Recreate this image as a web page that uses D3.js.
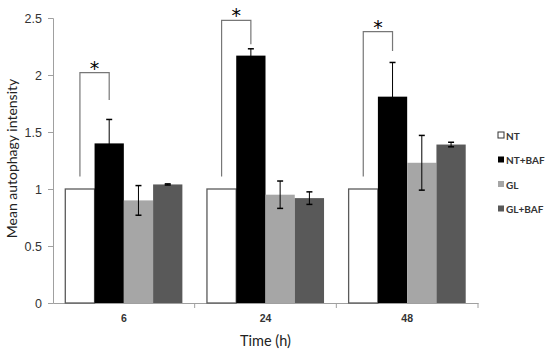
<!DOCTYPE html>
<html>
<head>
<meta charset="utf-8">
<script src="https://cdn.jsdelivr.net/npm/d3@7"></script>
<style>
  body { margin: 0; background: #fff; }
  svg { display: block; font-family: Lato, "Open Sans", sans-serif; }
</style>
</head>
<body>
<svg id="chart" width="550" height="358"></svg>
<script>
// Data
const times = ["6", "24", "48"];
const series = ["NT", "NT+BAF", "GL", "GL+BAF"];
const colors = ["#ffffff", "#000000", "#a6a6a6", "#595959"];
const means = [
  [1, 1.40, 0.90, 1.04],
  [1, 2.17, 0.95, 0.92],
  [1, 1.81, 1.23, 1.39]
];
const errors = [
  [0, 0.21, 0.13, 0.005],
  [0, 0.06, 0.12, 0.055],
  [0, 0.30, 0.24, 0.02]
];
// significance brackets: NT vs NT+BAF, bracket top value, leg ends
const brackets = [
  { time: "6",  top: 2.02, leftEnd: 1.11, rightEnd: 1.78 },
  { time: "24", top: 2.48, leftEnd: 1.11, rightEnd: 2.27 },
  { time: "48", top: 2.38, leftEnd: 1.11, rightEnd: 2.21 }
];
const yTicks = [0, 0.5, 1, 1.5, 2, 2.5];

const svg = d3.select("#chart");
const margin = { left: 53, right: 72, top: 18, bottom: 55 };
const width = 550, height = 358;

const x = d3.scaleBand()
  .domain(times)
  .range([margin.left, width - margin.right])
  .paddingInner(0)
  .paddingOuter(0);

const xInner = d3.scaleBand()
  .domain(series)
  .range([0, x.bandwidth()])
  .paddingOuter(0.42)
  .paddingInner(0);

const y = d3.scaleLinear()
  .domain([0, 2.5])
  .range([height - margin.bottom, margin.top]);

// Axes
const yAxis = svg.append("g")
  .attr("transform", `translate(${margin.left},0)`)
  .call(d3.axisLeft(y).tickValues(yTicks).tickSize(5).tickPadding(6)
    .tickFormat(d => d));
yAxis.select(".domain").attr("stroke", "#a0a0a0");
yAxis.selectAll(".tick line").attr("stroke", "#a0a0a0");
yAxis.selectAll(".tick text")
  .attr("font-size", "12.5px")
  .attr("fill", "#333");

const xAxis = svg.append("g")
  .attr("transform", `translate(0,${y(0)})`)
  .call(d3.axisBottom(x).tickSize(0).tickPadding(12));
xAxis.select(".domain").attr("stroke", "#a0a0a0");
xAxis.selectAll(".tick text")
  .attr("font-size", "10.5px")
  .attr("font-weight", "bold")
  .attr("fill", "#333");

// boundary ticks on x axis
svg.append("g")
  .selectAll("line")
  .data(times.slice(1).concat(["end"]))
  .enter()
  .append("line")
  .attr("x1", d => d === "end" ? x.range()[1] : x(d))
  .attr("x2", d => d === "end" ? x.range()[1] : x(d))
  .attr("y1", y(0))
  .attr("y2", y(0) + 5)
  .attr("stroke", "#a0a0a0");

// Bars
const groups = svg.append("g")
  .selectAll(".group")
  .data(times)
  .enter()
  .append("g")
  .attr("class", "group")
  .attr("transform", d => `translate(${x(d)},0)`);

groups.selectAll("rect")
  .data((t, i) => series.map((s, j) => ({ s, j, v: means[i][j], e: errors[i][j] })))
  .enter()
  .append("rect")
  .attr("x", d => xInner(d.s))
  .attr("y", d => y(d.v))
  .attr("width", xInner.bandwidth())
  .attr("height", d => y(0) - y(d.v))
  .attr("fill", d => colors[d.j])
  .attr("stroke", d => d.j === 0 ? "#5a5a5a" : "none")
  .attr("stroke-width", 1.3);

// Error bars
const err = groups.selectAll(".err")
  .data((t, i) => series.map((s, j) => ({ s, j, v: means[i][j], e: errors[i][j] }))
    .filter(d => d.e > 0))
  .enter()
  .append("g")
  .attr("class", "err")
  .attr("stroke", "#000")
  .attr("stroke-width", 1);

const cx = d => xInner(d.s) + xInner.bandwidth() / 2;
err.append("line")
  .attr("x1", cx).attr("x2", cx)
  .attr("y1", d => y(d.v - d.e))
  .attr("y2", d => y(d.v + d.e));
err.append("line")
  .attr("x1", d => cx(d) - 3).attr("x2", d => cx(d) + 3)
  .attr("y1", d => y(d.v + d.e)).attr("y2", d => y(d.v + d.e))
  .attr("stroke-width", 1.5);
err.append("line")
  .attr("x1", d => cx(d) - 3).attr("x2", d => cx(d) + 3)
  .attr("y1", d => y(d.v - d.e)).attr("y2", d => y(d.v - d.e))
  .attr("stroke-width", 1.5);

// Significance brackets
const br = svg.append("g")
  .selectAll(".bracket")
  .data(brackets)
  .enter()
  .append("g")
  .attr("class", "bracket")
  .attr("transform", d => `translate(${x(d.time)},0)`);

const lx = xInner("NT") + xInner.bandwidth() / 2;
const rx = xInner("NT+BAF") + xInner.bandwidth() / 2;
br.append("path")
  .attr("fill", "none")
  .attr("stroke", "#777")
  .attr("stroke-width", 1.2)
  .attr("d", d => `M${lx},${y(d.leftEnd)}V${y(d.top)}H${rx}V${y(d.rightEnd)}`);
br.append("text")
  .attr("x", (lx + rx) / 2)
  .attr("y", d => y(d.top) + 2)
  .attr("text-anchor", "middle")
  .attr("font-size", "19px")
  .attr("font-family", "'DejaVu Sans', sans-serif")
  .attr("fill", "#000")
  .text("*");

// Legend
const legend = svg.append("g")
  .selectAll(".legend")
  .data(series)
  .enter()
  .append("g")
  .attr("class", "legend")
  .attr("transform", (d, i) => `translate(498,${136 + i * 24.5})`);
legend.append("rect")
  .attr("x", 0).attr("y", -4)
  .attr("width", 6).attr("height", 6)
  .attr("fill", (d, i) => colors[i])
  .attr("stroke", (d, i) => i === 0 ? "#333" : "none");
legend.append("text")
  .attr("x", 8).attr("y", 0)
  .attr("dy", "0.35em")
  .attr("font-size", "10px")
  .attr("font-weight", "bold")
  .attr("fill", "#333")
  .text(d => d);

// Axis titles
svg.append("text")
  .attr("transform", `translate(17,${(y(0) + y(2.5)) / 2 - 2}) rotate(-90)`)
  .attr("text-anchor", "middle")
  .attr("font-size", "14px")
  .attr("fill", "#222")
  .text("Mean autophagy intensity");

svg.append("text")
  .attr("x", (x.range()[0] + x.range()[1]) / 2)
  .attr("y", 346)
  .attr("text-anchor", "middle")
  .attr("font-size", "14.5px")
  .attr("fill", "#222")
  .text("Time (h)");
</script>
</body>
</html>
